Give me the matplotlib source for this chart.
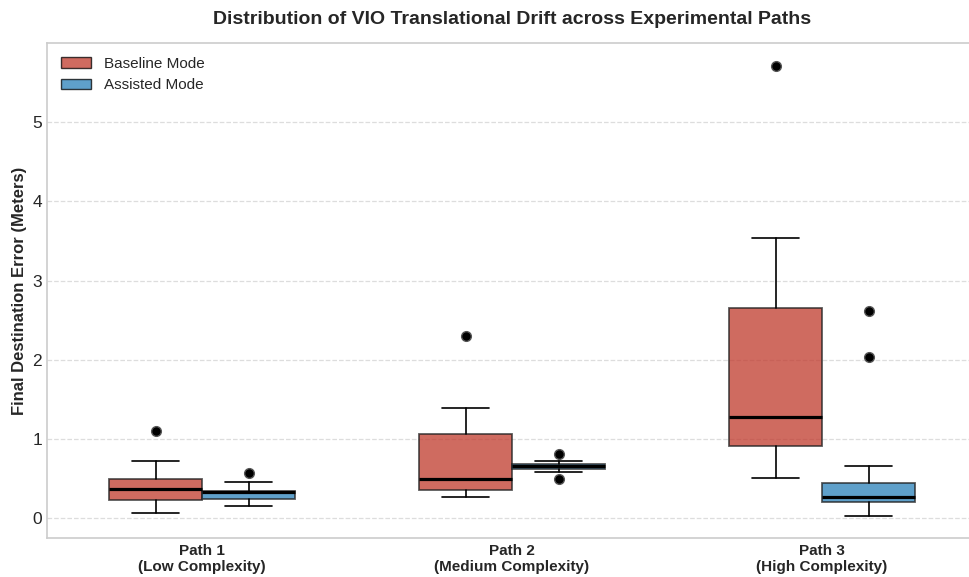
import matplotlib

matplotlib.use("Agg")
import matplotlib.pyplot as plt
from matplotlib.patches import Patch

# (meters)
paths = ["Path 1\n(Low Complexity)", "Path 2\n(Medium Complexity)", "Path 3\n(High Complexity)"]

base_q1 = [0.23, 0.35, 0.91]
base_med = [0.37, 0.49, 1.28]
base_q3 = [0.49, 1.06, 2.66]
base_lo = [0.07, 0.27, 0.51]
base_hi = [0.72, 1.39, 3.54]
base_fliers = [[1.10], [2.30], [5.71]]

asst_q1 = [0.24, 0.62, 0.20]
asst_med = [0.33, 0.66, 0.27]
asst_q3 = [0.34, 0.68, 0.44]
asst_lo = [0.16, 0.58, 0.03]
asst_hi = [0.46, 0.72, 0.66]
asst_fliers = [[0.57], [0.81, 0.49], [2.62, 2.03]]

BASE_COLOR = "#c0392b"
ASST_COLOR = "#2980b9"


def make_stats(q1, med, q3, lo, hi, fliers):
    return [
        dict(q1=a, med=b, q3=c, whislo=d, whishi=e, fliers=f)
        for a, b, c, d, e, f in zip(q1, med, q3, lo, hi, fliers)
    ]


plt.style.use("seaborn-v0_8-whitegrid")
plt.rcParams["font.family"] = ["Liberation Sans", "DejaVu Sans"]

fig = plt.figure(figsize=(9.69, 5.77), dpi=100)
ax = fig.add_axes([47 / 969, 39 / 577, 930 / 969, 495 / 577])

offset = 0.15
width = 0.3
groups = [
    (make_stats(base_q1, base_med, base_q3, base_lo, base_hi, base_fliers), -offset, BASE_COLOR),
    (make_stats(asst_q1, asst_med, asst_q3, asst_lo, asst_hi, asst_fliers), offset, ASST_COLOR),
]
for stats, off, color in groups:
    ax.bxp(
        stats,
        positions=[i + off for i in range(len(paths))],
        widths=width,
        patch_artist=True,
        manage_ticks=False,
        boxprops=dict(facecolor=color, alpha=0.75, edgecolor="#222222", linewidth=1.3),
        medianprops=dict(color="black", linewidth=2.3),
        whiskerprops=dict(color="black", linewidth=1.2),
        capprops=dict(color="black", linewidth=1.2),
        flierprops=dict(marker="o", markerfacecolor="black", markeredgecolor="#555555",
                        markersize=7, linestyle="none"),
    )

ax.set_xlim(-0.5, 2.5)
ax.set_ylim(-0.25, 6.0)
ax.set_xticks(range(len(paths)))
ax.set_xticklabels(paths, fontweight="bold", fontsize=11)
ax.set_yticks([0, 1, 2, 3, 4, 5])
ax.tick_params(axis="y", labelsize=12.5)
ax.tick_params(length=0)
ax.tick_params(axis="x", pad=4)

ax.grid(False, axis="x")
ax.grid(True, axis="y", linestyle="--", color="#dddddd", linewidth=0.9)
for side in ("top", "left", "bottom", "right"):
    ax.spines[side].set_visible(True)
    ax.spines[side].set_color("#cccccc")
    ax.spines[side].set_linewidth(1.2)

ax.set_ylabel("Final Destination Error (Meters)", fontsize=12, fontweight="bold")
ax.set_title("Distribution of VIO Translational Drift across Experimental Paths",
             fontsize=14, fontweight="bold", pad=14)

handles = [
    Patch(facecolor=BASE_COLOR, alpha=0.75, edgecolor="black", label="Baseline Mode"),
    Patch(facecolor=ASST_COLOR, alpha=0.75, edgecolor="black", label="Assisted Mode"),
]
ax.legend(handles=handles, loc="upper left", fontsize=11, frameon=False)

fig.savefig("out.png", dpi=100)
